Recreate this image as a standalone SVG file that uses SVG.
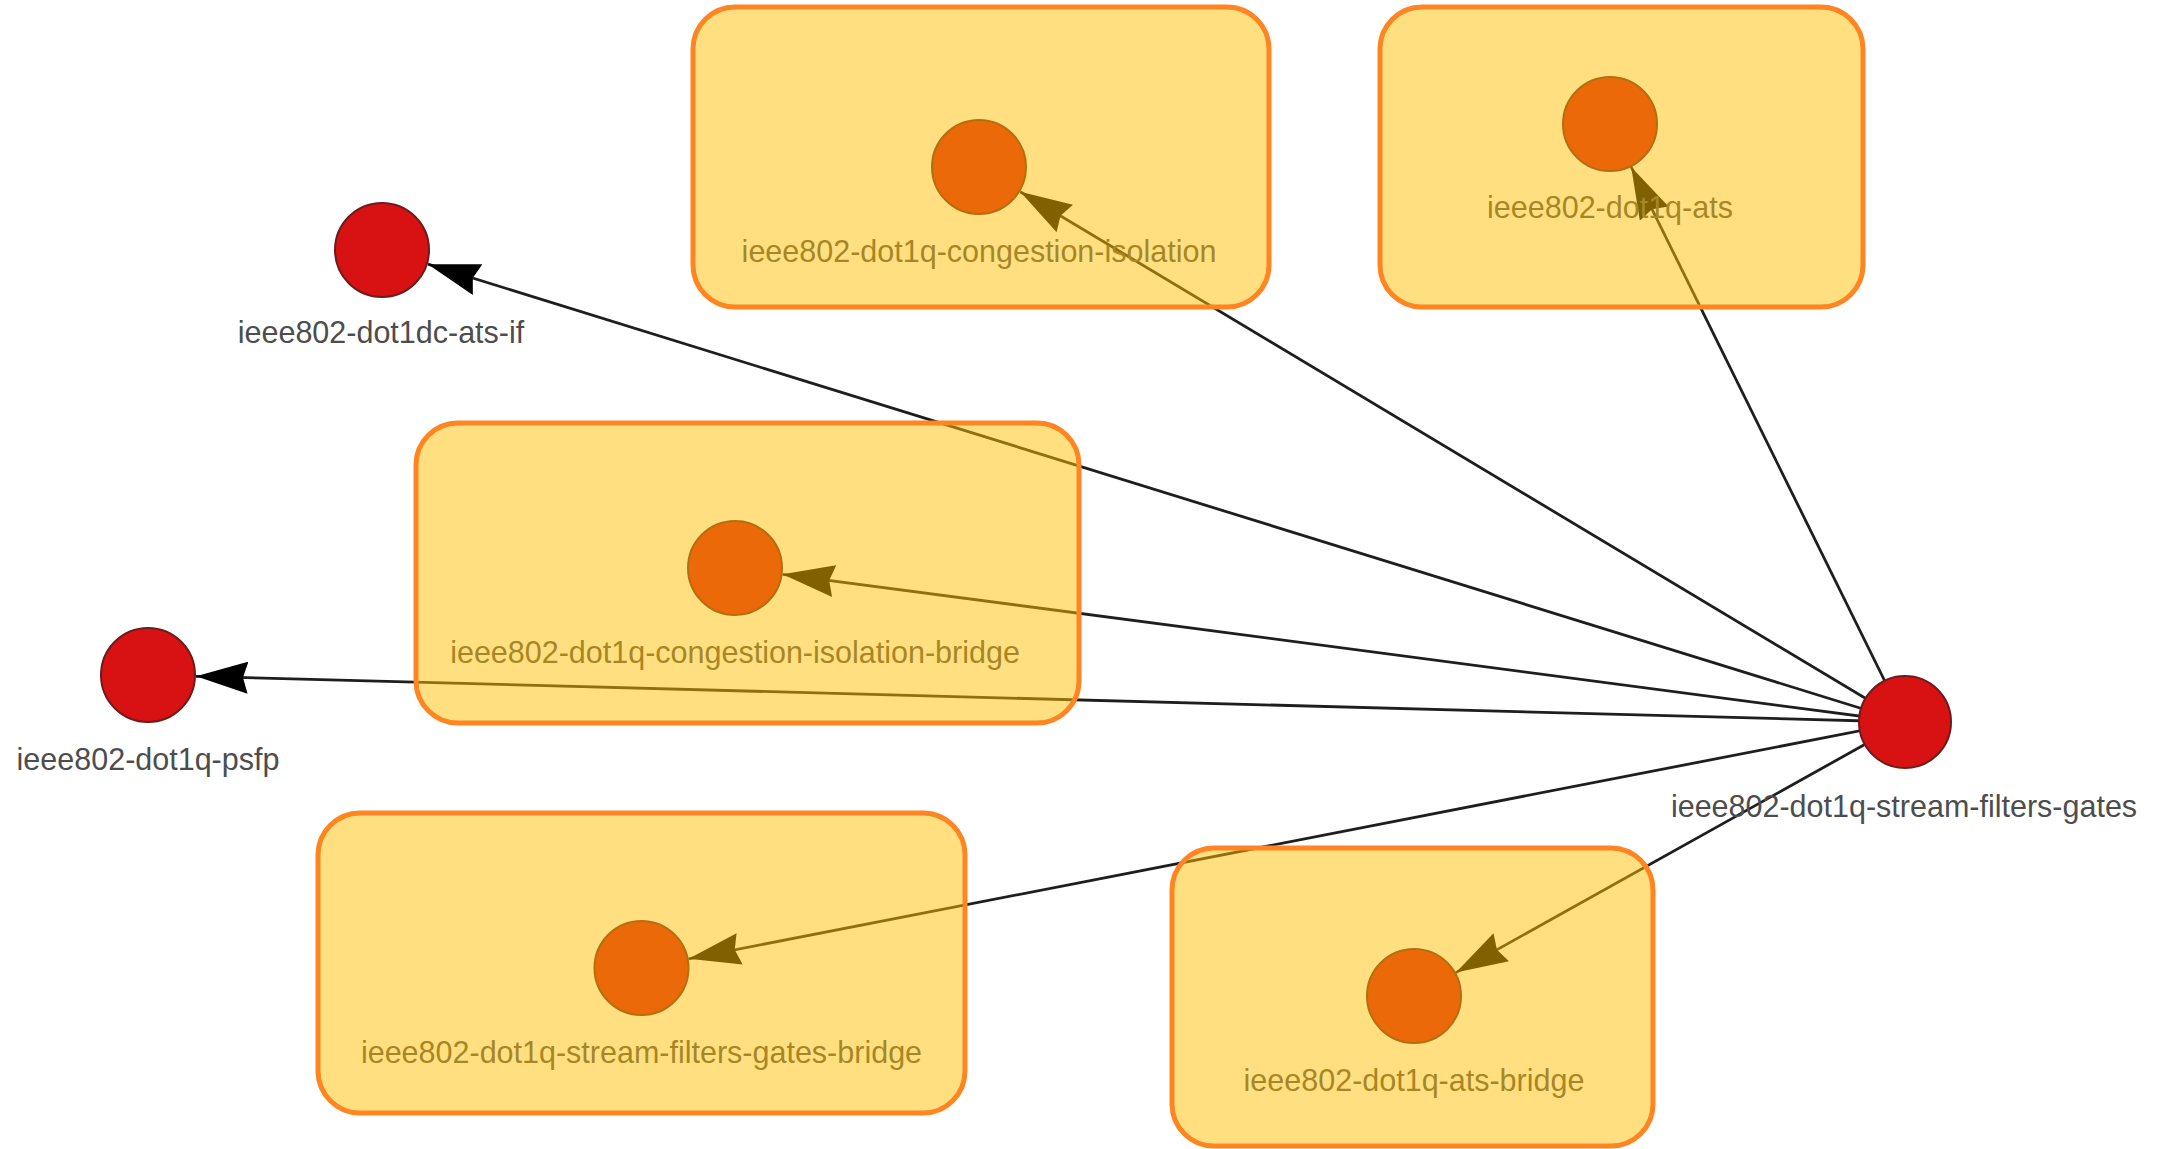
<svg xmlns="http://www.w3.org/2000/svg" width="2165" height="1149" viewBox="0 0 2165 1149">
<style>
  .edge { fill: none; stroke: #1e1e1e; stroke-width: 2.8; }
  .node { fill: #d81212; stroke: #6b1c1c; stroke-width: 2; }
  .label { font-family: "Liberation Sans", Arial, sans-serif; font-size: 30.5px; fill: #4d4d4d; text-anchor: middle; }
  .box { fill: #ffc000; fill-opacity: 0.5; stroke: #ff8522; stroke-width: 5; }
</style>
<defs>
  <marker id="arrow" viewBox="0 0 52 32" refX="52" refY="16" markerWidth="52" markerHeight="32" markerUnits="userSpaceOnUse" orient="auto">
    <path d="M52,16 L0,0 L5,16 L0,32 Z" fill="#000"/>
  </marker>
</defs>
<rect width="2165" height="1149" fill="#ffffff"/>
<g id="connectors">
  <path class="edge" d="M1905,722 L427.9,264.2" marker-end="url(#arrow)"/>
  <path class="edge" d="M1905,722 L196,676.3" marker-end="url(#arrow)"/>
  <path class="edge" d="M1905,722 L1020.2,191.7" marker-end="url(#arrow)"/>
  <path class="edge" d="M1905,722 L1631.2,167" marker-end="url(#arrow)"/>
  <path class="edge" d="M1905,722 L782.6,574.3" marker-end="url(#arrow)"/>
  <path class="edge" d="M1905,722 L688.6,958.8" marker-end="url(#arrow)"/>
  <path class="edge" d="M1905,722 L1455.9,972.6" marker-end="url(#arrow)"/>
</g>
<g id="node-stream-filters-gates">
  <circle class="node" cx="1905" cy="722" r="46"/>
  <text class="label" x="1904" y="817">ieee802-dot1q-stream-filters-gates</text>
</g>
<g id="node-dot1dc-ats-if">
  <circle class="node" cx="382" cy="250" r="47"/>
  <text class="label" x="381" y="343">ieee802-dot1dc-ats-if</text>
</g>
<g id="node-psfp">
  <circle class="node" cx="148" cy="675" r="47"/>
  <text class="label" x="148" y="770">ieee802-dot1q-psfp</text>
</g>
<g id="node-congestion-isolation">
  <circle class="node" cx="979" cy="167" r="47"/>
  <text class="label" x="979" y="262">ieee802-dot1q-congestion-isolation</text>
  <rect class="box" x="693" y="7" width="576" height="300" rx="42"/>
</g>
<g id="node-ats">
  <circle class="node" cx="1610" cy="124" r="47"/>
  <text class="label" x="1610" y="218">ieee802-dot1q-ats</text>
  <rect class="box" x="1380" y="7" width="483" height="300" rx="42"/>
</g>
<g id="node-congestion-isolation-bridge">
  <circle class="node" cx="735" cy="568" r="47"/>
  <text class="label" x="735" y="663">ieee802-dot1q-congestion-isolation-bridge</text>
  <rect class="box" x="416" y="423" width="663" height="300" rx="42"/>
</g>
<g id="node-stream-filters-gates-bridge">
  <circle class="node" cx="641.5" cy="968" r="47"/>
  <text class="label" x="641.5" y="1063">ieee802-dot1q-stream-filters-gates-bridge</text>
  <rect class="box" x="318" y="813" width="647" height="300" rx="42"/>
</g>
<g id="node-ats-bridge">
  <circle class="node" cx="1414" cy="996" r="47"/>
  <text class="label" x="1414" y="1091">ieee802-dot1q-ats-bridge</text>
  <rect class="box" x="1172" y="848" width="481" height="298" rx="42"/>
</g>
</svg>
